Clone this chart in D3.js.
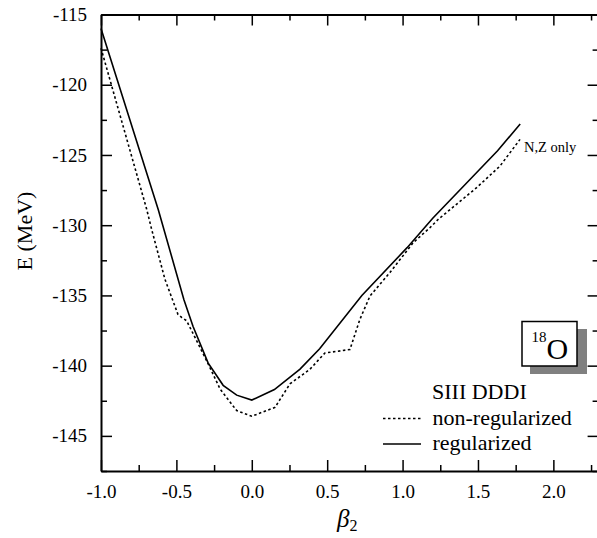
<!DOCTYPE html>
<html>
<head>
<meta charset="utf-8">
<script src="https://cdn.jsdelivr.net/npm/d3@7"></script>
</head>
<body style="margin:0">
<svg id="chart" width="597" height="538" font-family="Liberation Serif"></svg>
<script>
// ---- data ----
const betaReg = [-1.0, -0.62, -0.45, -0.39, -0.29, -0.19, -0.10, 0.0, 0.15, 0.32, 0.45, 0.73, 1.03, 1.20, 1.63, 1.78];
const energyReg = [-116.0, -128.9, -135.3, -137.2, -139.8, -141.4, -142.1, -142.45, -141.7, -140.25, -138.8, -135.0, -131.6, -129.5, -124.7, -122.8];

const betaNonReg = [-1.0, -0.697, -0.664, -0.576, -0.49, -0.465, -0.432, -0.415, -0.29, -0.21, -0.10, 0.0, 0.154, 0.253, 0.386, 0.485, 0.651, 0.717, 0.784, 0.916, 1.071, 1.182, 1.237, 1.491, 1.646, 1.779];
const energyNonReg = [-117.4, -128.87, -130.3, -133.85, -136.34, -136.57, -136.8, -137.17, -139.85, -141.67, -143.2, -143.6, -142.97, -141.3, -140.25, -139.1, -138.85, -136.7, -135.04, -133.37, -131.24, -130.17, -129.58, -127.33, -125.79, -123.89];

const xMajorTicks = [-1.0, -0.5, 0.0, 0.5, 1.0, 1.5, 2.0];
const xMinorTicks = [-0.75, -0.25, 0.25, 0.75, 1.25, 1.75, 2.25];
const yMajorTicks = [-145, -140, -135, -130, -125, -120, -115];
const yMinorTicks = [-147.5, -142.5, -137.5, -132.5, -127.5, -122.5, -117.5];

const legendTitle = "SIII DDDI";
const seriesNames = ["non-regularized", "regularized"];
const nucleusMass = "18";
const nucleusSymbol = "O";
const curveNote = "N,Z only";

// ---- layout ----
const FONT = '"Liberation Serif", monospace';
const svg = d3.select("#chart");
const pLeft = 101, pRight = 598.6, pTop = 14.5, pBottom = 471;
const x = d3.scaleLinear().domain([-1.0, 2.3]).range([pLeft, pRight]);
const y = d3.scaleLinear().domain([-147.5, -115]).range([pBottom, pTop]);

function styleAxis(g) {
  g.attr("font-family", null).attr("font-size", null);
  g.select(".domain").attr("stroke", "#000").attr("stroke-width", 2);
  g.selectAll(".tick line").attr("stroke", "#000").attr("stroke-width", 1.5);
}

// bottom axis
const gB = svg.append("g").attr("transform", `translate(0,${pBottom})`)
  .call(d3.axisBottom(x).tickValues(xMajorTicks).tickSizeInner(-11).tickSizeOuter(0).tickPadding(14)
    .tickFormat(d => d3.format(".1f")(d).replace("−", "-")));
gB.call(styleAxis);
gB.selectAll(".tick text").attr("font-size", 19).attr("fill", "#000");
svg.append("g").attr("transform", `translate(0,${pBottom})`)
  .call(d3.axisBottom(x).tickValues(xMinorTicks).tickSizeInner(-6).tickSizeOuter(0).tickFormat(""))
  .call(styleAxis).select(".domain").remove();

// top axis
svg.append("g").attr("transform", `translate(0,${pTop})`)
  .call(d3.axisTop(x).tickValues(xMajorTicks).tickSizeInner(-11).tickSizeOuter(0).tickFormat(""))
  .call(styleAxis);
svg.append("g").attr("transform", `translate(0,${pTop})`)
  .call(d3.axisTop(x).tickValues(xMinorTicks).tickSizeInner(-6).tickSizeOuter(0).tickFormat(""))
  .call(styleAxis).select(".domain").remove();

// left axis
const gL = svg.append("g").attr("transform", `translate(${pLeft},0)`)
  .call(d3.axisLeft(y).tickValues(yMajorTicks).tickSizeInner(-11).tickSizeOuter(0).tickPadding(14)
    .tickFormat(d => String(d)));
gL.call(styleAxis);
gL.selectAll(".tick text").attr("font-size", 19).attr("fill", "#000");
svg.append("g").attr("transform", `translate(${pLeft},0)`)
  .call(d3.axisLeft(y).tickValues(yMinorTicks).tickSizeInner(-6).tickSizeOuter(0).tickFormat(""))
  .call(styleAxis).select(".domain").remove();

// right axis
svg.append("g").attr("transform", `translate(${pRight},0)`)
  .call(d3.axisRight(y).tickValues(yMajorTicks).tickSizeInner(-11).tickSizeOuter(0).tickFormat(""))
  .call(styleAxis);
svg.append("g").attr("transform", `translate(${pRight},0)`)
  .call(d3.axisRight(y).tickValues(yMinorTicks).tickSizeInner(-6).tickSizeOuter(0).tickFormat(""))
  .call(styleAxis).select(".domain").remove();

// axis titles
svg.append("text")
  .attr("transform", `translate(32,231) rotate(-90)`)
  .attr("text-anchor", "middle").attr("font-size", 22)
  .text("E (MeV)");
const xt = svg.append("text").attr("x", 337).attr("y", 527).attr("font-size", 25);
xt.append("tspan").attr("font-style", "italic").text("β");
xt.append("tspan").attr("font-size", 16).attr("dy", 4).text("2");

// curves
const line = d3.line().x(d => x(d[0])).y(d => y(d[1]));
const nonReg = betaNonReg.map((b, i) => [b, energyNonReg[i]]);
const reg = betaReg.map((b, i) => [b, energyReg[i]]);
svg.append("path").datum(nonReg).attr("d", line)
  .attr("fill", "none").attr("stroke", "#000").attr("stroke-width", 1.6)
  .attr("stroke-dasharray", "2.5,2.5");
svg.append("path").datum(reg).attr("d", line)
  .attr("fill", "none").attr("stroke", "#000").attr("stroke-width", 1.6);

// curve note
svg.append("text").attr("x", 524).attr("y", 152).attr("font-size", 14.5).text(curveNote);

// nucleus box
svg.append("rect").attr("x", 530).attr("y", 329).attr("width", 57).attr("height", 45).attr("fill", "#808080");
svg.append("rect").attr("x", 522).attr("y", 321.5).attr("width", 55).attr("height", 44.5)
  .attr("fill", "#fff").attr("stroke", "#000").attr("stroke-width", 1.5);
const nt = svg.append("text").attr("x", 531.5).attr("y", 359);
nt.append("tspan").attr("font-size", 15).attr("dy", -17).text(nucleusMass);
nt.append("tspan").attr("font-size", 30).attr("dy", 17).text(nucleusSymbol);

// legend
svg.append("text").attr("x", 432).attr("y", 399).attr("font-size", 22).text(legendTitle);
const legendRows = [
  { name: seriesNames[0], dash: "2.5,2.5", ly: 418.5, ty: 425 },
  { name: seriesNames[1], dash: null, ly: 444, ty: 450 }
];
legendRows.forEach(r => {
  svg.append("line").attr("x1", 383).attr("x2", 421).attr("y1", r.ly).attr("y2", r.ly)
    .attr("stroke", "#000").attr("stroke-width", 1.6)
    .attr("stroke-dasharray", r.dash);
  svg.append("text").attr("x", 432.5).attr("y", r.ty).attr("font-size", 22).text(r.name);
});

// serif font on every text element
svg.selectAll("text").style("font-family", FONT).style("fill", "#000");
</script>
</body>
</html>
